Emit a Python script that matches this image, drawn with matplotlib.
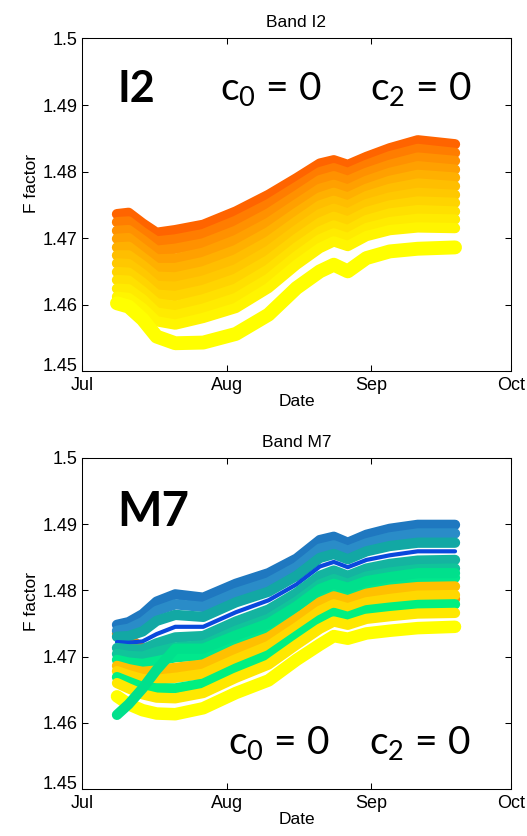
import matplotlib
matplotlib.use("Agg")
import matplotlib.pyplot as plt
from matplotlib.transforms import ScaledTranslation

# day index counted from 1 July
days = [7.5, 10, 13, 16, 20, 26, 33, 40, 46, 51, 54, 57, 61, 66, 72, 80]

month_ticks = [0, 31, 62, 92]
month_labels = ["Jul", "Aug", "Sep", "Oct"]
f_ticks = [1.45, 1.46, 1.47, 1.48, 1.49, 1.50]
f_labels = ["1.45", "1.46", "1.47", "1.48", "1.49", "1.5"]

# Band I2 detector curves, upper to lower
i2_curves = [
    [1.4736, 1.4738, 1.4722, 1.4708, 1.4712, 1.4720, 1.4740, 1.4765, 1.4790, 1.4812, 1.4817, 1.4810, 1.4822, 1.4835, 1.4847, 1.4841],
    [1.4724, 1.4725, 1.4709, 1.4695, 1.4698, 1.4706, 1.4726, 1.4751, 1.4777, 1.4799, 1.4805, 1.4798, 1.4810, 1.4823, 1.4834, 1.4828],
    [1.4711, 1.4712, 1.4697, 1.4681, 1.4684, 1.4692, 1.4711, 1.4737, 1.4764, 1.4787, 1.4793, 1.4786, 1.4798, 1.4810, 1.4821, 1.4816],
    [1.4699, 1.4700, 1.4684, 1.4668, 1.4669, 1.4678, 1.4697, 1.4723, 1.4751, 1.4774, 1.4780, 1.4773, 1.4786, 1.4798, 1.4808, 1.4803],
    [1.4686, 1.4687, 1.4671, 1.4655, 1.4655, 1.4664, 1.4682, 1.4709, 1.4738, 1.4761, 1.4768, 1.4761, 1.4774, 1.4786, 1.4795, 1.4791],
    [1.4674, 1.4674, 1.4659, 1.4642, 1.4641, 1.4650, 1.4668, 1.4695, 1.4725, 1.4749, 1.4756, 1.4749, 1.4763, 1.4774, 1.4782, 1.4778],
    [1.4662, 1.4661, 1.4646, 1.4628, 1.4627, 1.4636, 1.4653, 1.4681, 1.4712, 1.4736, 1.4744, 1.4737, 1.4751, 1.4761, 1.4768, 1.4765],
    [1.4649, 1.4648, 1.4633, 1.4615, 1.4613, 1.4622, 1.4639, 1.4667, 1.4699, 1.4723, 1.4732, 1.4725, 1.4739, 1.4749, 1.4755, 1.4753],
    [1.4637, 1.4636, 1.4620, 1.4602, 1.4598, 1.4608, 1.4624, 1.4653, 1.4686, 1.4710, 1.4719, 1.4712, 1.4727, 1.4737, 1.4742, 1.4740],
    [1.4624, 1.4623, 1.4608, 1.4588, 1.4584, 1.4594, 1.4610, 1.4639, 1.4673, 1.4698, 1.4707, 1.4700, 1.4715, 1.4724, 1.4729, 1.4728],
    [1.4612, 1.4610, 1.4595, 1.4575, 1.4570, 1.4580, 1.4595, 1.4625, 1.4660, 1.4685, 1.4695, 1.4688, 1.4703, 1.4712, 1.4716, 1.4715],
    [1.4602, 1.4597, 1.4578, 1.4552, 1.4542, 1.4543, 1.4556, 1.4585, 1.4625, 1.4650, 1.4660, 1.4650, 1.4670, 1.4680, 1.4684, 1.4686],
]
i2_colors = ["#ff6400", "#ff7d00", "#ff9100", "#ffa000", "#ffb000", "#ffbe00",
             "#ffc800", "#ffd400", "#ffe000", "#ffeb00", "#fff500", "#ffff00"]
i2_widths = [7.4] * 11 + [10.0]

# Band M7 detector curves: two that cross the bundle early on, then upper to lower
m7_curves = [
    [1.4735, 1.4728, 1.4712, 1.4690, 1.4675, 1.4672, 1.4690, 1.4709, 1.4738, 1.4762, 1.4772, 1.4766, 1.4776, 1.4781, 1.4786, 1.4787],
    [1.4748, 1.4752, 1.4764, 1.4783, 1.4794, 1.4789, 1.4810, 1.4826, 1.4848, 1.4876, 1.4881, 1.4872, 1.4884, 1.4893, 1.4899, 1.4899],
    [1.4739, 1.4742, 1.4752, 1.4769, 1.4779, 1.4775, 1.4796, 1.4812, 1.4835, 1.4863, 1.4868, 1.4860, 1.4871, 1.4880, 1.4886, 1.4886],
    [1.4730, 1.4731, 1.4738, 1.4754, 1.4763, 1.4760, 1.4782, 1.4798, 1.4822, 1.4849, 1.4855, 1.4847, 1.4859, 1.4867, 1.4872, 1.4872],
    [1.4722, 1.4721, 1.4723, 1.4734, 1.4745, 1.4745, 1.4767, 1.4785, 1.4809, 1.4836, 1.4843, 1.4835, 1.4846, 1.4853, 1.4859, 1.4859],
    [1.4713, 1.4711, 1.4711, 1.4720, 1.4729, 1.4731, 1.4753, 1.4771, 1.4796, 1.4822, 1.4830, 1.4822, 1.4833, 1.4840, 1.4845, 1.4846],
    [1.4704, 1.4701, 1.4700, 1.4707, 1.4714, 1.4717, 1.4739, 1.4757, 1.4783, 1.4809, 1.4817, 1.4810, 1.4821, 1.4827, 1.4832, 1.4833],
    [1.4695, 1.4691, 1.4689, 1.4693, 1.4699, 1.4702, 1.4725, 1.4743, 1.4770, 1.4796, 1.4804, 1.4798, 1.4808, 1.4814, 1.4819, 1.4819],
    [1.4686, 1.4681, 1.4677, 1.4679, 1.4683, 1.4688, 1.4711, 1.4729, 1.4757, 1.4782, 1.4791, 1.4785, 1.4795, 1.4801, 1.4805, 1.4806],
    [1.4678, 1.4672, 1.4666, 1.4665, 1.4668, 1.4674, 1.4696, 1.4716, 1.4744, 1.4769, 1.4779, 1.4773, 1.4782, 1.4787, 1.4792, 1.4793],
    [1.4669, 1.4662, 1.4654, 1.4652, 1.4652, 1.4659, 1.4682, 1.4702, 1.4731, 1.4755, 1.4766, 1.4760, 1.4770, 1.4774, 1.4778, 1.4779],
    [1.4660, 1.4652, 1.4643, 1.4638, 1.4637, 1.4645, 1.4668, 1.4688, 1.4718, 1.4742, 1.4753, 1.4748, 1.4757, 1.4761, 1.4765, 1.4766],
    [1.4640, 1.4628, 1.4619, 1.4614, 1.4613, 1.4622, 1.4645, 1.4664, 1.4695, 1.4718, 1.4731, 1.4727, 1.4735, 1.4739, 1.4743, 1.4745],
    [1.4612, 1.4628, 1.4652, 1.4680, 1.4712, 1.4712, 1.4732, 1.4750, 1.4776, 1.4802, 1.4810, 1.4804, 1.4814, 1.4820, 1.4826, 1.4826],
]
m7_colors = ["#ff8c00", "#1f78c0", "#2a8cc8", "#12a8a4", "#0a48dc", "#14b4a0",
             "#10c49a", "#00e88c", "#ffc000", "#ffd800", "#00f080", "#ffe800",
             "#ffff00", "#00e08c"]
m7_widths = [7.4, 7.4, 7.4, 7.4, 3.0, 7.4, 7.4, 7.4, 7.4, 7.4, 7.4, 7.4, 9.0, 7.4]

plt.rcParams["font.family"] = ["Liberation Sans", "DejaVu Sans"]
plt.rcParams["mathtext.fontset"] = "custom"
plt.rcParams["mathtext.rm"] = "Lato"
plt.rcParams["mathtext.it"] = "Lato"

fig = plt.figure(figsize=(5.27, 8.36), dpi=100)
ax_i2 = fig.add_axes([0.1556, 0.556, 0.814, 0.398])
ax_m7 = fig.add_axes([0.1556, 0.0562, 0.814, 0.396])


def draw_band(ax, curves, colors, widths, title):
    for vals, col, lw in zip(curves, colors, widths):
        ax.plot(days, vals, color=col, linewidth=lw,
                solid_capstyle="round", solid_joinstyle="round")
    ax.set_xlim(0, 92)
    ax.set_ylim(1.45, 1.50)
    ax.set_xticks(month_ticks)
    ax.set_xticklabels(month_labels)
    ax.set_yticks(f_ticks)
    ax.set_yticklabels(f_labels)
    ax.tick_params(direction="in", top=True, right=True, length=4,
                   width=0.75, labelsize=13, pad=3)
    ax.tick_params(axis="x", pad=4.5)
    # lift the bottom F label a little so it clears the "Jul" label
    low = ax.get_yticklabels()[0]
    low.set_transform(low.get_transform()
                      + ScaledTranslation(0, 5 / 72, fig.dpi_scale_trans))
    for sp in ax.spines.values():
        sp.set_linewidth(0.75)
    ax.set_title(title, fontsize=12.5, pad=8)
    ax.set_xlabel("Date", fontsize=12.5, labelpad=0)
    ax.set_ylabel("F factor", fontsize=12.5)
    ax.yaxis.set_label_coords(-0.10, 0.565)


draw_band(ax_i2, i2_curves, i2_colors, i2_widths, "Band I2")
draw_band(ax_m7, m7_curves, m7_colors, m7_widths, "Band M7")

ax_i2.text(0.082, 0.808, "I2", transform=ax_i2.transAxes, fontsize=31,
           fontfamily="Lato", fontweight="bold", va="baseline")
ax_i2.text(0.322, 0.814, r"c$_0$ = 0", transform=ax_i2.transAxes,
           fontsize=28, fontfamily="Lato", va="baseline")
ax_i2.text(0.671, 0.814, r"c$_2$ = 0", transform=ax_i2.transAxes,
           fontsize=28, fontfamily="Lato", va="baseline")

ax_m7.text(0.082, 0.795, "M7", transform=ax_m7.transAxes, fontsize=34,
           fontfamily="Lato", fontweight="bold", va="baseline")
ax_m7.text(0.340, 0.105, r"c$_0$ = 0", transform=ax_m7.transAxes,
           fontsize=28, fontfamily="Lato", va="baseline")
ax_m7.text(0.669, 0.105, r"c$_2$ = 0", transform=ax_m7.transAxes,
           fontsize=28, fontfamily="Lato", va="baseline")

fig.savefig("out.png", dpi=100)
